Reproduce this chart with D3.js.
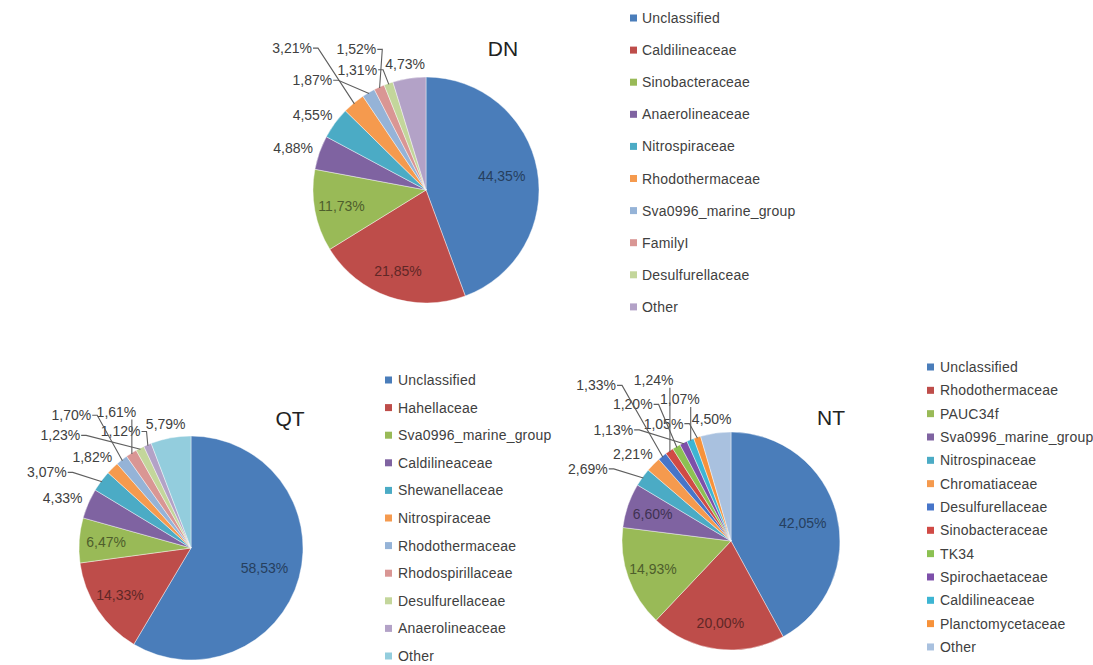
<!DOCTYPE html>
<html><head><meta charset="utf-8">
<script src="https://cdn.jsdelivr.net/npm/d3@7"></script>
<style>body{margin:0;background:#fff} svg{display:block;background:#fff}</style>
</head><body><svg id="c" width="1093" height="665"></svg>
<script>
// ---------- data ----------
const dnCategories = ["Unclassified","Caldilineaceae","Sinobacteraceae","Anaerolineaceae","Nitrospiraceae","Rhodothermaceae","Sva0996_marine_group","FamilyI","Desulfurellaceae","Other"];
const dnValues = [44.35,21.85,11.73,4.88,4.55,3.21,1.87,1.52,1.31,4.73];

const qtCategories = ["Unclassified","Hahellaceae","Sva0996_marine_group","Caldilineaceae","Shewanellaceae","Nitrospiraceae","Rhodothermaceae","Rhodospirillaceae","Desulfurellaceae","Anaerolineaceae","Other"];
const qtValues = [58.53,14.33,6.47,4.33,3.07,1.82,1.70,1.61,1.23,1.12,5.79];

const ntCategories = ["Unclassified","Rhodothermaceae","PAUC34f","Sva0996_marine_group","Nitrospinaceae","Chromatiaceae","Desulfurellaceae","Sinobacteraceae","TK34","Spirochaetaceae","Caldilineaceae","Planctomycetaceae","Other"];
const ntValues = [42.05,20.00,14.93,6.60,2.69,2.21,1.33,1.24,1.20,1.13,1.07,1.05,4.50];

const chartTitles = ["DN","QT","NT"];

// ---------- styles ----------
const baseColors = ["#4A7DBA","#BE4D4A","#99BA57","#7F63A1","#4BABC5","#F59A4E"];
const lightColors = ["#95B3D7","#D99694","#C3D69B","#B3A2C7","#93CDDD"];
const secondColors = ["#4775C9","#D04A45","#8CC152","#7D4FAA","#3DB5D3","#F7923A"];
const dnColors = baseColors.concat(lightColors.slice(0,4));
const qtColors = baseColors.concat(lightColors.slice(0,5));
const ntColors = baseColors.concat(secondColors, ["#A9C1DF"]);

const W = 1093, H = 665;
const FONT = "'Liberation Sans', Arial, sans-serif";
const TXT = "#404040";

const charts = [
  {title: chartTitles[0], cats: dnCategories, vals: dnValues, colors: dnColors,
   cx: 426, cy: 190, r: 113, tx: 503, ty: 48,
   legend: {sx: 630, tx: 642, y0: 18, dy: 32.1}},
  {title: chartTitles[1], cats: qtCategories, vals: qtValues, colors: qtColors,
   cx: 191, cy: 548, r: 112, tx: 290, ty: 418,
   legend: {sx: 385, tx: 398, y0: 380, dy: 27.6}},
  {title: chartTitles[2], cats: ntCategories, vals: ntValues, colors: ntColors,
   cx: 731, cy: 541, r: 109, tx: 831, ty: 417,
   legend: {sx: 927, tx: 940, y0: 367, dy: 23.33}}
];

const svg = d3.select("#c");
const fmt = v => d3.format(".2f")(v).replace(".", ",") + "%";
const bboxRect = n => { const b = n.getBBox(); return {x0: b.x, y0: b.y, x1: b.x + b.width, y1: b.y + b.height}; };

function rectOverlap(a, b, px, py) {
  return a.x0 < b.x1 + px && a.x1 > b.x0 - px && a.y0 < b.y1 + py && a.y1 > b.y0 - py;
}
function rectHitsCircle(rc, cx, cy, rad) {
  const nx = Math.max(rc.x0, Math.min(cx, rc.x1));
  const ny = Math.max(rc.y0, Math.min(cy, rc.y1));
  return Math.hypot(nx - cx, ny - cy) < rad;
}
function samples(pts, n) {
  const out = [];
  for (let k = 0; k < pts.length - 1; k++) {
    const [x0, y0] = pts[k], [x1, y1] = pts[k + 1];
    for (let s = 0; s <= n; s++) out.push([x0 + (x1 - x0) * s / n, y0 + (y1 - y0) * s / n]);
  }
  return out;
}
function polyHitsRect(pts, rc, pad) {
  return samples(pts, 40).some(([x, y]) =>
    x > rc.x0 - pad && x < rc.x1 + pad && y > rc.y0 - pad && y < rc.y1 + pad);
}
function polyEntersPie(pts, cx, cy, r) {
  return samples(pts, 40).some(([x, y]) => Math.hypot(x - cx, y - cy) < r - 3);
}
function leader(rc, py, ex, ey) {
  if (ex > rc.x1 + 3) return [[rc.x1 + 1, py], [rc.x1 + 6, py], [ex, ey]];
  if (ex < rc.x0 - 3) return [[rc.x0 - 1, py], [rc.x0 - 6, py], [ex, ey]];
  const sx = Math.max(rc.x0 + 3, Math.min(ex, rc.x1 - 3));
  return [[sx, ey > py ? rc.y1 + 1 : rc.y0 - 1], [ex, ey]];
}

const globalObstacles = [];

// pass 1: slices, titles, legends, inside labels
charts.forEach(ch => {
  const g = svg.append("g");
  ch.g = g;
  ch.pie = d3.pie().sort(null).value(d => d)(ch.vals);
  const arc = d3.arc().innerRadius(0).outerRadius(ch.r);

  g.selectAll("path.slice").data(ch.pie).enter().append("path")
    .attr("class", "slice")
    .attr("transform", `translate(${ch.cx},${ch.cy})`)
    .attr("d", arc)
    .attr("fill", (d, i) => ch.colors[i])
    .attr("stroke", "#ffffff").attr("stroke-width", 0.6).attr("stroke-opacity", 0.7);

  const t = g.append("text").attr("x", ch.tx).attr("y", ch.ty)
    .attr("text-anchor", "middle").attr("dominant-baseline", "central")
    .attr("font-family", FONT).attr("font-size", 21).attr("fill", "#222")
    .text(ch.title);
  globalObstacles.push(bboxRect(t.node()));

  ch.cats.forEach((c, i) => {
    const y = ch.legend.y0 + i * ch.legend.dy;
    g.append("rect").attr("x", ch.legend.sx).attr("y", y - 3.5)
      .attr("width", 7).attr("height", 7).attr("fill", ch.colors[i]);
    const lt = g.append("text").attr("x", ch.legend.tx).attr("y", y)
      .attr("dominant-baseline", "central")
      .attr("font-family", FONT).attr("font-size", 14).attr("letter-spacing", 0.2)
      .attr("fill", TXT).text(c);
    const rb = bboxRect(lt.node());
    rb.x0 = ch.legend.sx;
    globalObstacles.push(rb);
  });

  ch.items = ch.pie.map((d, i) => {
    const a = (d.startAngle + d.endAngle) / 2;
    return {d, i, a, ux: Math.sin(a), uy: -Math.cos(a), v: ch.vals[i]};
  });

  ch.items.filter(it => it.v >= 6).forEach(it => {
    const k = it.v > 40 ? 0.68 : 0.76;
    g.append("text")
      .attr("x", ch.cx + it.ux * ch.r * k).attr("y", ch.cy + it.uy * ch.r * k)
      .attr("text-anchor", "middle").attr("dominant-baseline", "central")
      .attr("font-family", FONT).attr("font-size", 14)
      .attr("fill", d3.color(ch.colors[it.i]).darker(1.9).formatHex())
      .text(fmt(it.v));
  });
});

// pass 2: outside labels, from the slice nearest 12 o'clock backwards
charts.forEach(ch => {
  const g = ch.g;
  const placed = globalObstacles.slice();
  const lines = [];
  const gap = 8;
  const outside = ch.items.filter(it => it.v < 6).reverse();
  outside.forEach(it => {
    const txt = g.append("text")
      .attr("text-anchor", "middle").attr("dominant-baseline", "central")
      .attr("font-family", FONT).attr("font-size", 14).attr("fill", TXT)
      .text(fmt(it.v));
    const w = txt.node().getBBox().width, h = 13;
    const p0x = ch.cx + it.ux * (ch.r + gap) + it.ux * w / 2;
    const p0y = ch.cy + it.uy * (ch.r + gap) + it.uy * h / 2;
    const ex = ch.cx + it.ux * (ch.r - 1), ey = ch.cy + it.uy * (ch.r - 1);
    const side = it.ux < 0 ? -1 : 1;
    const vert = it.uy < 0 ? -1 : 1;
    const dirs = [[it.ux, it.uy, 1], [0, vert, 1], [side, 0, 1.2],
                  [side * 0.7071, vert * 0.7071, 1.1]];
    function search(strict) {
      let best = null;
      for (let dd = 0; dd <= 200; dd += 1) {
        for (const dir of dirs) {
          const cost = dd * dir[2];
          if (best && cost >= best.cost) continue;
          const x = p0x + dir[0] * dd, y = p0y + dir[1] * dd;
          const rc = {x0: x - w / 2, x1: x + w / 2, y0: y - h / 2, y1: y + h / 2};
          if (rc.x0 < 1 || rc.x1 > W - 1 || rc.y0 < 1 || rc.y1 > H - 1) continue;
          if (rectHitsCircle(rc, ch.cx, ch.cy, ch.r + 3)) continue;
          if (placed.some(p => rectOverlap(rc, p, 5, 6))) continue;
          let pts = null;
          if (dd > 6) {
            pts = leader(rc, y, ex, ey);
            if (polyEntersPie(pts, ch.cx, ch.cy, ch.r)) continue;
          }
          if (strict) {
            if (lines.some(l => polyHitsRect(l, rc, 2))) continue;
            if (pts && placed.some(p => polyHitsRect(pts, p, 1))) continue;
          }
          best = {cost, x, y, rc, pts};
        }
      }
      return best;
    }
    let best = search(true) || search(false);
    if (!best) best = {x: p0x, y: p0y, rc: {x0: p0x - w / 2, x1: p0x + w / 2, y0: p0y - h / 2, y1: p0y + h / 2}, pts: null};
    placed.push(best.rc);
    txt.attr("x", best.x).attr("y", best.y);
    if (best.pts) {
      lines.push(best.pts);
      g.append("path").attr("d", d3.line()(best.pts))
        .attr("fill", "none").attr("stroke", "#5f5f5f").attr("stroke-width", 1.1);
    }
  });
});
</script>
</body></html>
